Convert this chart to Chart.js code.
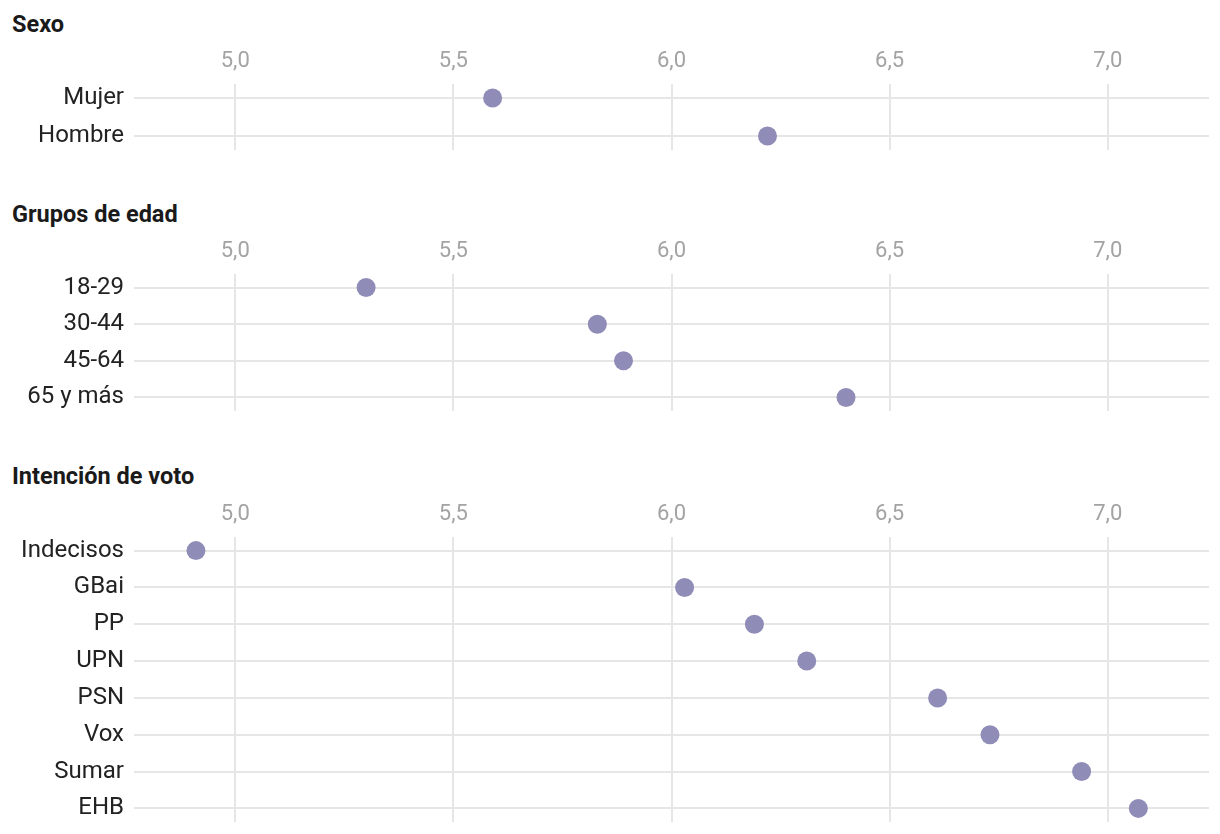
<!DOCTYPE html>
<html>
<head>
<meta charset="utf-8">
<script src="https://cdn.jsdelivr.net/npm/chart.js@4"></script>
<style>
  html, body { margin: 0; padding: 0; background: #ffffff; }
  body { width: 1220px; height: 834px; position: relative; overflow: hidden; font-family: Roboto, "Noto Sans", sans-serif; }
  .title { position: absolute; left: 12px; font-weight: 700; font-size: 23.5px; color: #1a1a1a; line-height: 26px; height: 26px; }
  .panel { position: absolute; left: 0; width: 1220px; }
</style>
</head>
<body>
<div class="title" style="top:11px">Sexo</div>
<div class="panel" style="top:40px;height:120px"><canvas id="c1"></canvas></div>
<div class="title" style="top:201px">Grupos de edad</div>
<div class="panel" style="top:230px;height:191px"><canvas id="c2"></canvas></div>
<div class="title" style="top:463px">Intención de voto</div>
<div class="panel" style="top:493px;height:339px"><canvas id="c3"></canvas></div>
<script>
// ---- data ----
const sexoLabels = ['Mujer', 'Hombre'];
const sexoValues = [5.59, 6.22];
const edadLabels = ['18-29', '30-44', '45-64', '65 y más'];
const edadValues = [5.30, 5.83, 5.89, 6.40];
const votoLabels = ['Indecisos', 'GBai', 'PP', 'UPN', 'PSN', 'Vox', 'Sumar', 'EHB'];
const votoValues = [4.91, 6.03, 6.19, 6.31, 6.61, 6.73, 6.94, 7.07];
const xTicks = [5.0, 5.5, 6.0, 6.5, 7.0];
const xMin = 4.768, xMax = 7.232;

const dotColor = '#8f8db7';
const gridColor = '#e6e6e6';

function makeChart(id, labels, values) {
  const pad = 0.37;
  const data = values.map((v, i) => ({ x: v, y: i }));
  return new Chart(document.getElementById(id), {
    type: 'scatter',
    data: {
      datasets: [{
        data: data,
        backgroundColor: dotColor,
        borderWidth: 0,
        pointRadius: 9.5,
        pointHoverRadius: 9.5,
        clip: false
      }]
    },
    options: {
      responsive: true,
      maintainAspectRatio: false,
      animation: false,
      events: [],
      layout: { padding: { left: 0, right: 11, top: 0, bottom: 10 } },
      plugins: { legend: { display: false }, tooltip: { enabled: false }, title: { display: false } },
      scales: {
        x: {
          type: 'linear',
          position: 'top',
          min: xMin,
          max: xMax,
          afterBuildTicks: (scale) => { scale.ticks = xTicks.map(v => ({ value: v })); },
          afterFit: (scale) => { scale.height = 44; scale.paddingLeft = 0; scale.paddingRight = 0; },
          grid: { color: gridColor, lineWidth: 2, drawTicks: false },
          border: { display: false },
          ticks: {
            padding: 9,
            color: '#a3a3a3',
            font: { family: 'Roboto', size: 22 },
            callback: (v) => Number(v).toFixed(1).replace('.', ',')
          }
        },
        y: {
          type: 'linear',
          reverse: true,
          min: -pad,
          max: labels.length - 1 + pad,
          afterBuildTicks: (scale) => { scale.ticks = labels.map((_, i) => ({ value: i })); },
          afterFit: (scale) => { scale.width = 134; scale.paddingTop = 0; scale.paddingBottom = 0; },
          grid: { color: gridColor, lineWidth: 2, drawTicks: false },
          border: { display: false },
          ticks: {
            padding: 10,
            color: '#222222',
            font: { family: 'Roboto', size: 24 },
            callback: (v) => labels[v]
          }
        }
      }
    }
  });
}

makeChart('c1', sexoLabels, sexoValues);
makeChart('c2', edadLabels, edadValues);
makeChart('c3', votoLabels, votoValues);
</script>
</body>
</html>
